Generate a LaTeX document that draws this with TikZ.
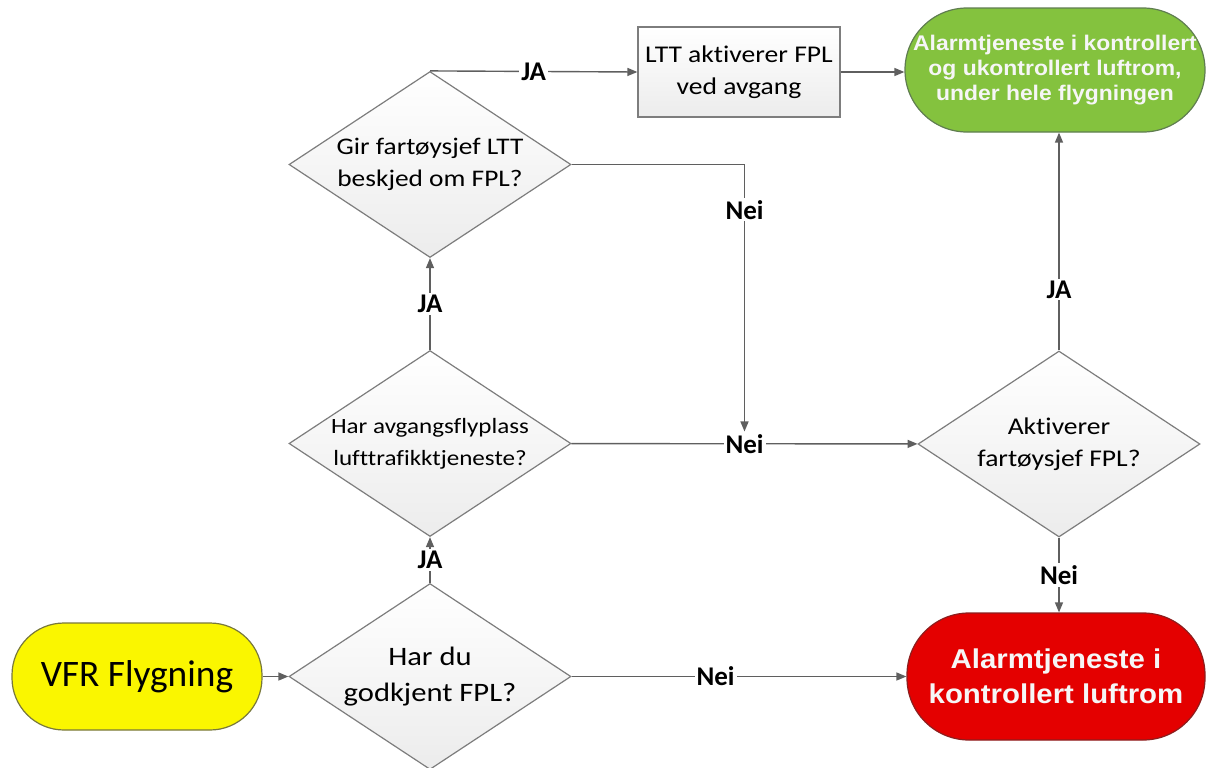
\documentclass[tikz,border=0pt]{standalone}
\usepackage{fontspec}
\setmainfont{Carlito}[Ligatures=NoCommon]
\newfontfamily\diafont{Carlito}[FakeStretch=1.15,Ligatures=NoCommon]
\newfontfamily\alarmfont{Liberation Sans}[FakeStretch=1.08]
\usetikzlibrary{shapes.geometric,arrows.meta}
\definecolor{vfryellow}{RGB}{250,246,0}
\definecolor{vfredge}{RGB}{120,120,60}
\definecolor{okgreen}{RGB}{132,194,62}
\definecolor{greenedge}{RGB}{95,125,80}
\definecolor{alarmred}{RGB}{228,0,0}
\definecolor{rededge}{RGB}{140,30,30}
\definecolor{diafill}{RGB}{236,236,236}
\definecolor{diaedge}{RGB}{125,125,125}
\definecolor{flowgray}{RGB}{95,95,95}
\definecolor{alarmtext}{RGB}{246,246,246}
\begin{document}
\begin{tikzpicture}[x=0.5pt,y=-0.5pt,
  decision/.style={diamond,draw=diaedge,top color=white,bottom color=diafill,line width=0.6pt,
    aspect=1.516,minimum width=141pt,minimum height=93pt,inner sep=0pt,align=center},
  terminal/.style={rectangle,line width=0.6pt,align=center,inner sep=0pt},
  flow/.style={draw=flowgray,line width=0.7pt,-{Triangle[length=5pt,width=4pt]}},
  lbl/.style={fill=white,inner sep=1pt,font=\fontsize{13.5}{16}\selectfont\bfseries}]
  \useasboundingbox (0,0) rectangle (1206,767);
  \node[terminal,fill=vfryellow,draw=vfredge,minimum width=125pt,minimum height=53.5pt,rounded corners=26pt,
    font=\fontsize{18.7}{22}\selectfont] (vfr) at (137,676.5) {VFR Flygning};
  \node[decision,font=\diafont\fontsize{13.3}{18}\selectfont] (godkjent) at (430,676.5) {Har du\\godkjent FPL?};
  \node[decision,font=\diafont\fontsize{10.9}{16}\selectfont] (flyplass) at (430,443.5) {Har avgangsflyplass\\lufttrafikktjeneste?};
  \node[decision,font=\diafont\fontsize{11.9}{16}\selectfont] (beskjed) at (430,164.5) {Gir fartøysjef LTT\\beskjed om FPL?};
  \node[decision,font=\diafont\fontsize{12}{16}\selectfont] (aktiverer) at (1059,444) {Aktiverer\\fartøysjef FPL?};
  \node[draw=diaedge,top color=white,bottom color=diafill,line width=0.6pt,minimum width=101pt,minimum height=45pt,
    align=center,inner sep=0pt,font=\diafont\fontsize{12}{16}\selectfont] (ltt) at (739,72) {LTT aktiverer FPL\\ved avgang};
  \node[terminal,fill=okgreen,draw=greenedge,text=alarmtext,minimum width=150pt,minimum height=62pt,rounded corners=31pt,
    font=\alarmfont\bfseries\fontsize{10.6}{12.5}\selectfont] (hele) at (1055,70) {Alarmtjeneste i kontrollert\\og ukontrollert luftrom,\\under hele flygningen};
  \node[terminal,fill=alarmred,draw=rededge,text=alarmtext,minimum width=149pt,minimum height=63.5pt,rounded corners=31pt,
    font=\alarmfont\bfseries\fontsize{13.6}{17.5}\selectfont] (kontrollert) at (1056,676.5) {Alarmtjeneste i\\kontrollert luftrom};
  \draw[flow] (vfr) -- (godkjent);
  \draw[flow] (godkjent) -- node[lbl,pos=0.43]{Nei} (kontrollert);
  \draw[flow] (godkjent) -- node[lbl]{JA} (flyplass);
  \draw[flow] (flyplass) -- node[lbl]{JA} (beskjed);
  \draw[flow] (flyplass) -- node[lbl] (neimid) {Nei} (aktiverer);
  \draw[flow] (beskjed.east) -| node[lbl,pos=0.585]{Nei} (neimid.north);
  \draw[flow] (beskjed.north) -- node[lbl]{JA} (ltt.west);
  \draw[flow] (ltt.east) -- (ltt.east -| hele.west);
  \draw[flow] (aktiverer.north) -- node[lbl,pos=0.28]{JA} (aktiverer.north |- hele.south);
  \draw[flow] (aktiverer.south) -- node[lbl]{Nei} (aktiverer.south |- kontrollert.north);
\end{tikzpicture}
\end{document}
